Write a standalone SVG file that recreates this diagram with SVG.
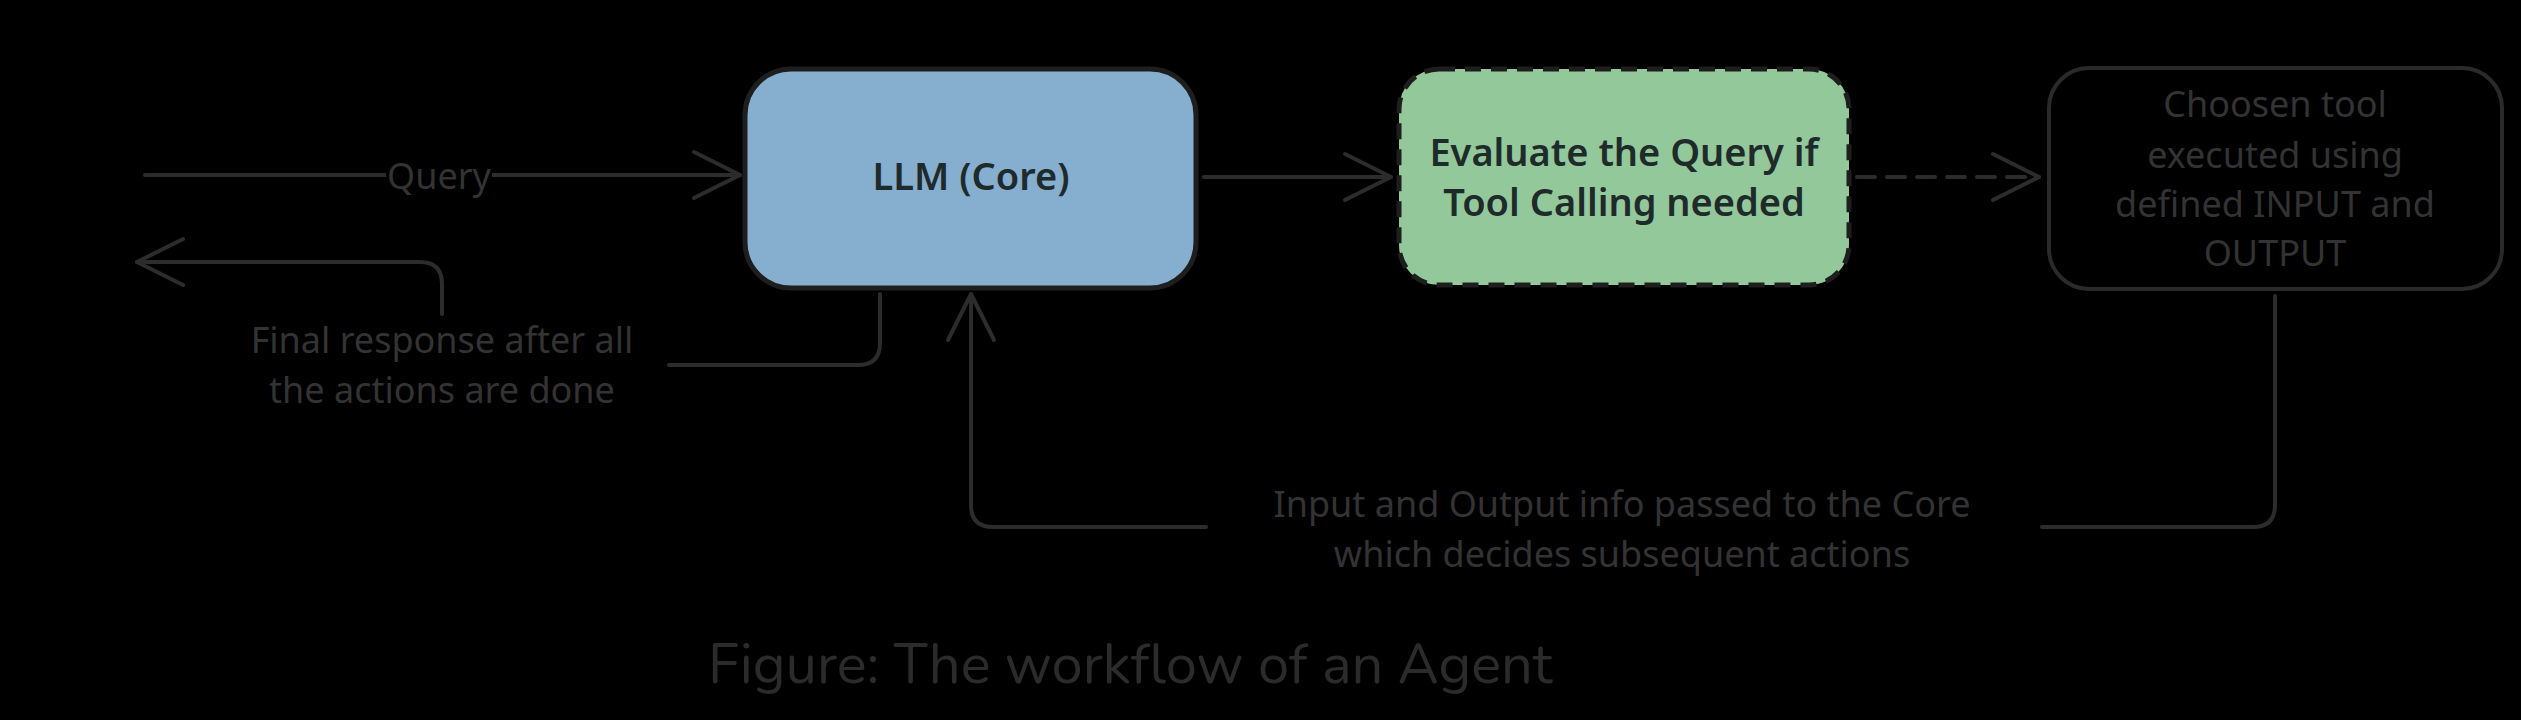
<svg xmlns="http://www.w3.org/2000/svg" width="2521" height="720" viewBox="0 0 2521 720">
<style>
.t{font-family:"Noto Sans","Liberation Sans",sans-serif;font-size:36px;text-anchor:middle;dominant-baseline:central}
.lbl{fill:#333333}
.dk{fill:#1f2b2b;font-weight:600;font-size:38px}
.ln{fill:none;stroke:#2c2c2c;stroke-width:4;stroke-linecap:round;stroke-linejoin:round}
</style>
<defs>
<marker id="ahb" viewBox="0 0 54 54" refX="50" refY="27" markerWidth="54" markerHeight="54" markerUnits="userSpaceOnUse" orient="auto">
<path d="M4,4 L50,27 L4,50" fill="none" stroke="#2c2c2c" stroke-width="4" stroke-linecap="round" stroke-linejoin="round"/>
</marker>
</defs>
<rect width="2521" height="720" fill="#000"/>
<g id="connectors">
<path class="ln" d="M145,175 H740" marker-end="url(#ahb)"/>
<path class="ln" d="M1204,177 H1391" marker-end="url(#ahb)"/>
<path class="ln" d="M1857,177 H2039" stroke-dasharray="18 12" marker-end="url(#ahb)"/>
<path class="ln" d="M2275,296 V505 Q2275,527 2253,527 H2042"/>
<path class="ln" d="M1206,527 H993 Q971,527 971,505 V294" marker-end="url(#ahb)"/>
<path class="ln" d="M880,294 V343 Q880,365 858,365 H669"/>
<path class="ln" d="M442,314 V284 Q442,262 420,262 H137" marker-end="url(#ahb)"/>
<rect x="386" y="158" width="106" height="34" fill="#000"/>
<text class="t lbl" x="439" y="175">Query</text>
<text class="t lbl" x="442" y="339">Final response after all</text>
<text class="t lbl" x="442" y="389">the actions are done</text>
<text class="t lbl" x="1622" y="503">Input and Output info passed to the Core</text>
<text class="t lbl" x="1622" y="553">which decides subsequent actions</text>
</g>
<g id="llm">
<rect x="745" y="69" width="451" height="219" rx="46" fill="#86aecf" stroke="#1e1e1e" stroke-width="5"/>
<text class="t dk" x="971" y="175">LLM (Core)</text>
</g>
<g id="evaluate">
<rect x="1399" y="69" width="450" height="216" rx="40" fill="#93c89a" stroke="#1e1e1e" stroke-width="5" stroke-dasharray="16 10"/>
<text class="t dk" x="1624" y="151">Evaluate the Query if</text>
<text class="t dk" x="1624" y="201">Tool Calling needed</text>
</g>
<g id="tool">
<rect x="2049" y="68" width="453" height="221" rx="40" fill="none" stroke="#2a2a2a" stroke-width="4"/>
<text class="t lbl" x="2275" y="103">Choosen tool</text>
<text class="t lbl" x="2275" y="154">executed using</text>
<text class="t lbl" x="2275" y="203">defined INPUT and</text>
<text class="t lbl" x="2275" y="252">OUTPUT</text>
</g>
<text x="708" y="664" font-family="Nunito,'Noto Sans','Liberation Sans',sans-serif" font-size="56" fill="#2b2b2b" dominant-baseline="central">Figure: The workflow of an Agent</text>
</svg>
